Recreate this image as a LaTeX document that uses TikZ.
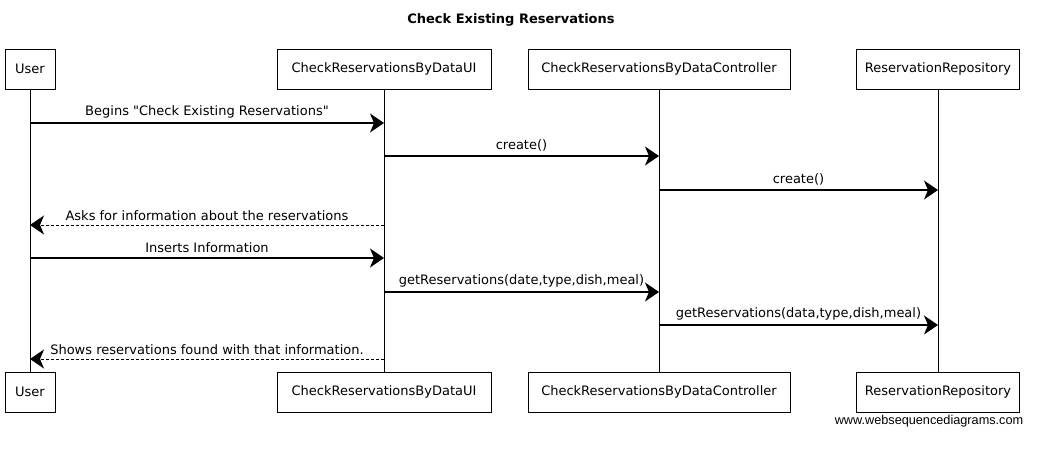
\documentclass[tikz,border=0pt]{standalone}
\usepackage{fontspec}
\newfontfamily\seqfont{DejaVu Sans}
\newfontfamily\webfont{Liberation Sans}
\usetikzlibrary{arrows.meta}

\begin{document}
\begin{tikzpicture}[
    x=1pt, y=-1pt,
    actor/.style={draw, fill=white, minimum height=40pt, inner sep=0pt, font=\seqfont\fontsize{13}{15}\selectfont},
    lifeline/.style={draw, thin},
    msg/.style={draw, line width=1.1pt, -{Stealth[length=14pt, width=19pt, inset=4pt]}},
    reply/.style={msg, line width=0.8pt, dash pattern=on 3pt off 2pt},
    lab/.style={above=1pt, font=\seqfont\fontsize{13}{15}\selectfont}
]
\useasboundingbox (0,0) rectangle (1053,453);

% Title
\node[font=\seqfont\fontsize{13}{15}\selectfont\bfseries] (title) at (511,20) {Check Existing Reservations};

% Define participants
\foreach \name/\x/\w/\txt in {user/30/50/User, ui/384/214/CheckReservationsByDataUI,
    ctrl/659/262/CheckReservationsByDataController, repo/938/163/ReservationRepository} {
    \node[actor, minimum width=\w pt] (\name top) at (\x,69) {\txt};
    \node[actor, minimum width=\w pt] (\name bot) at (\x,392) {\txt};
    \draw[lifeline] (\name top) -- (\name bot);
}

% Draw messages
\foreach \i/\from/\to/\y/\sty/\txt in {
    1/user/ui/123/msg/{Begins "Check Existing Reservations"},
    2/ui/ctrl/156/msg/{create()},
    3/ctrl/repo/190/msg/{create()},
    4/ui/user/225/reply/{Asks for information about the reservations},
    5/user/ui/258/msg/{Inserts Information},
    6/ui/ctrl/292/msg/{getReservations(date,type,dish,meal)},
    7/ctrl/repo/325/msg/{getReservations(data,type,dish,meal)},
    8/ui/user/359/reply/{Shows reservations found with that information.}} {
    \coordinate (m\i) at (0,\y);
    \draw[\sty] (\from top |- m\i) -- node[lab] {\txt} (\to top |- m\i);
}

\node[font=\webfont\fontsize{12.7}{15}\selectfont] (web) at (929,421) {www.websequencediagrams.com};

\end{tikzpicture}
\end{document}
